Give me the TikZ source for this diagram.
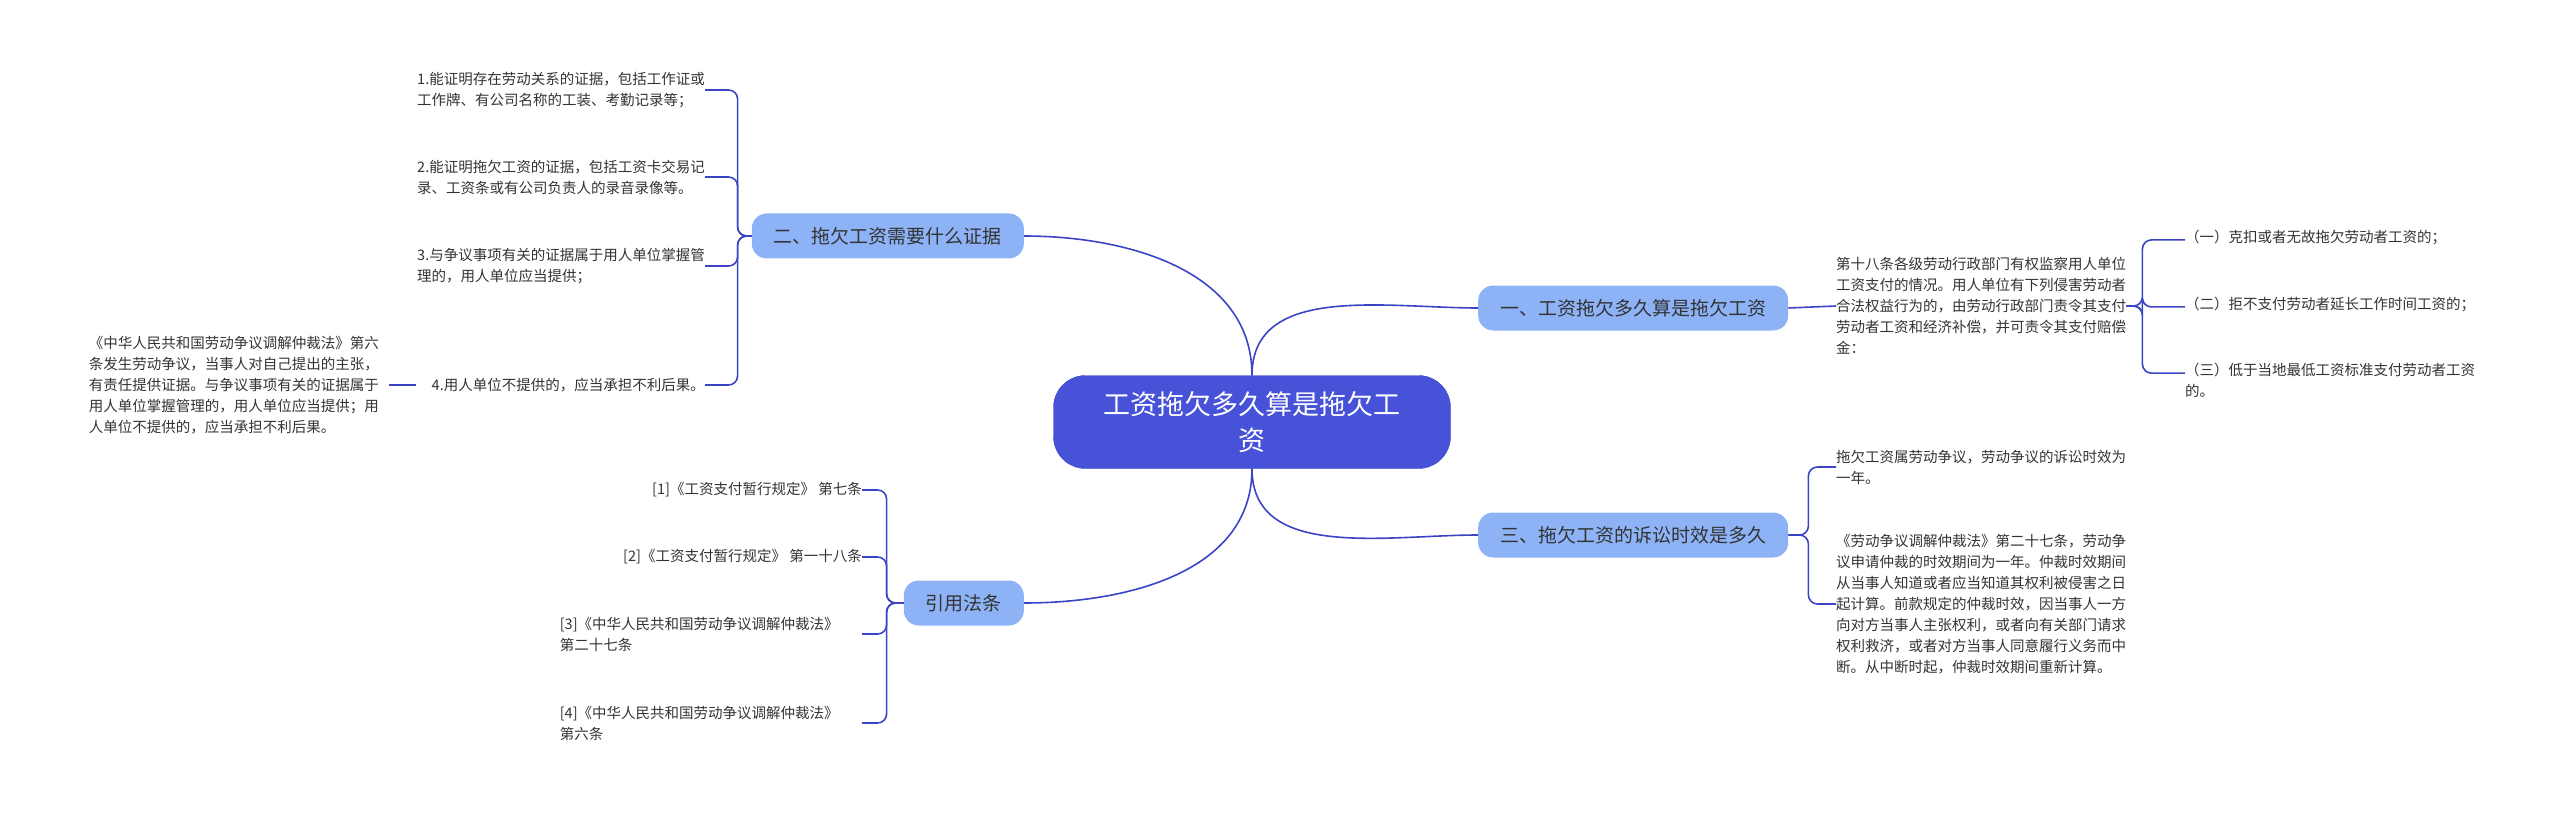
\documentclass[tikz,border=0pt]{standalone}
\usepackage{fontspec}
\setmainfont{Noto Sans CJK SC}
\usetikzlibrary{positioning}
\definecolor{linkblue}{HTML}{3A44C4}
\definecolor{rootblue}{HTML}{4752D8}
\definecolor{topicblue}{HTML}{8DB3F6}
\definecolor{leaftext}{HTML}{333333}

\begin{document}
\begin{tikzpicture}[x=1pt,y=-1pt]
\tikzstyle{root-node}=
[
	rectangle, rounded corners=32pt, fill=rootblue, draw=linkblue,
	text=white, minimum width=397pt, minimum height=93pt,
	align=center, font=\fontsize{27}{36}\selectfont
]
\tikzstyle{topic-node}=
[
	rectangle, rounded corners=15pt, fill=topicblue,
	text=leaftext, minimum height=45pt, inner xsep=22pt,
	font=\fontsize{19}{24}\selectfont
]
\tikzstyle{leaf-node}=
[
	inner sep=0pt, align=left, text=leaftext,
	font=\fontsize{14.5}{21}\selectfont
]
\tikzstyle{link}=[draw=linkblue, line width=1.6pt]

\useasboundingbox (0,0) rectangle (2560,813);

% root and topics
\node[root-node] (root) at (1252,422) {工资拖欠多久算是拖欠工\\资};
\node[topic-node, anchor=west] (wage) at (1478,308) {一、工资拖欠多久算是拖欠工资};
\node[topic-node, anchor=east] (proof) at (1024,236) {二、拖欠工资需要什么证据};
\node[topic-node, anchor=west] (limit) at (1478,535) {三、拖欠工资的诉讼时效是多久};
\node[topic-node, anchor=east] (law) at (1024,603) {引用法条};

\draw[link] (root.north) to[out=90,in=180] (wage.west);
\draw[link] (root.north) to[out=90,in=0] (proof.east);
\draw[link] (root.south) to[out=-90,in=180] (limit.west);
\draw[link] (root.south) to[out=-90,in=0] (law.east);

% topic one
\node[leaf-node, anchor=west] (art18) at (1836,306) {第十八条各级劳动行政部门有权监察用人单位\\工资支付的情况。用人单位有下列侵害劳动者\\合法权益行为的，由劳动行政部门责令其支付\\劳动者工资和经济补偿，并可责令其支付赔偿\\金：};
\draw[link] (wage.east) -- (art18.west);
\node[leaf-node, anchor=west] (case1) at (2185,237) {（一）克扣或者无故拖欠劳动者工资的；};
\node[leaf-node, anchor=west] (case2) at (2185,304) {（二）拒不支付劳动者延长工作时间工资的；};
\node[leaf-node, anchor=west] (case3) at (2185,380) {（三）低于当地最低工资标准支付劳动者工资\\的。};
\foreach \c in {case1,case2,case3}
	\draw[link, rounded corners=9pt] (art18.east) -- ++(16,0) |- ([yshift=-10.5pt]\c.north west);

% topic two
\node[leaf-node, anchor=east] (ev1) at (705,90) {1.能证明存在劳动关系的证据，包括工作证或\\工作牌、有公司名称的工装、考勤记录等；};
\node[leaf-node, anchor=east] (ev2) at (705,177) {2.能证明拖欠工资的证据，包括工资卡交易记\\录、工资条或有公司负责人的录音录像等。};
\node[leaf-node, anchor=east] (ev3) at (705,266) {3.与争议事项有关的证据属于用人单位掌握管\\理的，用人单位应当提供；};
\node[leaf-node, anchor=east] (ev4) at (705,385) {4.用人单位不提供的，应当承担不利后果。};
\foreach \e in {ev1,ev2,ev3,ev4}
	\draw[link, rounded corners=9pt] (proof.west) -- ++(-14,0) |- (\e.east);
\node[leaf-node, anchor=east] (art6) at (379,385) {《中华人民共和国劳动争议调解仲裁法》第六\\条发生劳动争议，当事人对自己提出的主张，\\有责任提供证据。与争议事项有关的证据属于\\用人单位掌握管理的，用人单位应当提供；用\\人单位不提供的，应当承担不利后果。};
\draw[link] (ev4.west) ++(-16,0) -- ([xshift=10pt]art6.east);

% topic three
\node[leaf-node, anchor=west] (term1) at (1836,467) {拖欠工资属劳动争议，劳动争议的诉讼时效为\\一年。};
\node[leaf-node, anchor=west] (term2) at (1836,604) {《劳动争议调解仲裁法》第二十七条，劳动争\\议申请仲裁的时效期间为一年。仲裁时效期间\\从当事人知道或者应当知道其权利被侵害之日\\起计算。前款规定的仲裁时效，因当事人一方\\向对方当事人主张权利，或者向有关部门请求\\权利救济，或者对方当事人同意履行义务而中\\断。从中断时起，仲裁时效期间重新计算。};
\draw[link, rounded corners=9pt] (limit.east) -- ++(20,0) |- (term1.west);
\draw[link, rounded corners=9pt] (limit.east) -- ++(20,0) |- (term2.west);

% topic four
\node[leaf-node, anchor=east] (ref1) at (862,490) {[1]《工资支付暂行规定》 第七条};
\node[leaf-node, anchor=east] (ref2) at (862,557) {[2]《工资支付暂行规定》 第一十八条};
\node[leaf-node, anchor=east, text width=302pt] (ref3) at (862,634) {[3]《中华人民共和国劳动争议调解仲裁法》\\第二十七条};
\node[leaf-node, anchor=east, text width=302pt] (ref4) at (862,723) {[4]《中华人民共和国劳动争议调解仲裁法》\\第六条};
\foreach \r in {ref1,ref2,ref3,ref4}
	\draw[link, rounded corners=9pt] (law.west) -- ++(-17,0) |- (\r.east);
\end{tikzpicture}
\end{document}
